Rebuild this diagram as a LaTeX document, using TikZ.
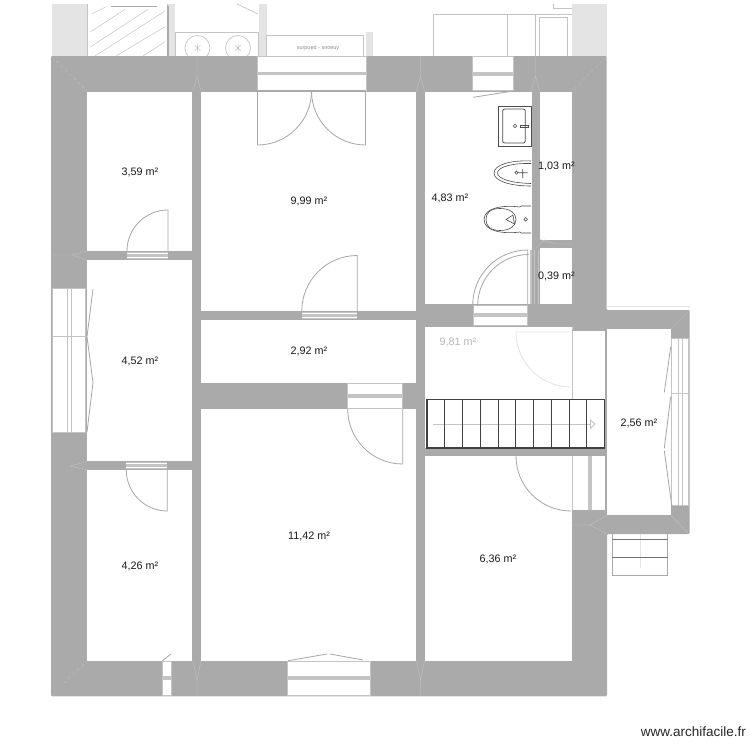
\documentclass[tikz,border=0pt]{standalone}
\usepackage{fontspec}
\setmainfont{Liberation Sans}
\usepackage{xcolor}
\definecolor{wallgray}{HTML}{AAAAAA}
\definecolor{framegray}{HTML}{C4C4C4}
\definecolor{palegray}{HTML}{E4E4E4}
\tikzstyle{wall} = [fill=wallgray, draw=none]
\tikzstyle{room} = [fill=white, draw=none]
\tikzstyle{opening} = [fill=white, draw=framegray, line width=0.9pt]
\tikzstyle{band} = [fill=framegray, draw=none]
\tikzstyle{doorline} = [draw=framegray!85!black, line width=0.8pt]
\tikzstyle{joint} = [draw=framegray, line width=0.3pt]
\tikzstyle{fixture} = [draw=black!70, line width=0.6pt]
\tikzstyle{outside} = [draw=framegray, line width=0.7pt]
\tikzstyle{area} = [font=\fontsize{10.8}{12}\selectfont, text=black!90, inner sep=0pt]
\tikzstyle{stairline} = [draw=black!75, line width=1.1pt]

\begin{document}
\begin{tikzpicture}[x=1pt, y=-1pt]
    \useasboundingbox (0,0) rectangle (750,750);

    % what lies outside, north of the house
    \fill[palegray] (52,4) rectangle (87,56);
    \fill[palegray] (168,4) rectangle (175,56);
    \fill[palegray] (259,4) rectangle (266.5,56);
    \fill[palegray] (366,32) rectangle (373,56);
    \fill[palegray] (572,4) rectangle (606.5,56);
    \draw[outside] (87.5,56) -- (87.5,4) (167,56) -- (167,4);
    \draw[draw=wallgray, line width=1.5pt] (168,56) -- (168,6);
    \draw[draw=wallgray, line width=1pt] (111,6) -- (157,6);
    \draw[outside] (237,4) .. controls (245,8) and (252,11) .. (258,14);
    \foreach \hx/\hy/\ha/\hb in {91.7/14/105/7.3, 90.7/31.7/125/9.3, 90.7/46.7/148/9.3, 95/56/165/11, 116/56/165/26.7, 143/56/165/41.7} {
        \draw[outside, line width=0.5pt] (\hx,\hy) -- (\ha,\hb);
    }
    \draw[outside] (175,56) -- (175,32) -- (258,32) -- (258,56);
    \foreach \cx in {197.5,238} {
        \draw[outside] (\cx,48) circle (12.5);
        \draw[outside, line width=0.5pt] (\cx-3,45) -- (\cx+3,51) (\cx+3,45) -- (\cx-3,51) (\cx,44) -- (\cx,52);
    }
    \draw[outside] (266.5,56) -- (266.5,35.5) -- (363.5,35.5) -- (363.5,56);
    \node[inner sep=0pt, text=black!45, font=\fontsize{5.5}{6}\selectfont] (mirrored) at (318,48.5) {surpoed - snoeuy};
    \draw[outside] (433.5,56) -- (433.5,14.5) -- (572,14.5) (507.5,14.5) -- (507.5,56) (535,14.5) -- (535,56);
    \draw[outside] (539.5,56) -- (539.5,17.5) -- (567.5,17.5) -- (567.5,56);
    \draw[outside] (553.5,4) -- (553.5,8) -- (572,8);

    % walls
    \draw[draw=palegray, line width=0.8pt] (606.5,306) -- (689.5,306);
    \fill[wall, rounded corners=1pt] (51,56) -- (606.5,56) -- (606.5,310) -- (689.5,310) -- (689.5,534)
        -- (607,534) -- (607,696) -- (51,696) -- cycle;
    \draw[draw=palegray, line width=0.8pt] (52,696.5) -- (606,696.5);

    % rooms
    \foreach \xa/\ya/\xb/\yb in {87/91.5/192.3/251, 87/260/192.3/461.3, 87/470.3/192.3/660.5,
        201/91.5/416/311, 201/320/416/383, 201/409/416/660.5,
        425/91.5/531.5/304, 540/91.5/571.5/239.5, 540/248/571.5/304,
        425/327/571.7/447.7, 571.7/330.5/605.3/447.7, 425/456/605.3/510, 425/510/571.7/660.5,
        607/329/670.7/515.3} {
        \fill[room] (\xa,\ya) rectangle (\xb,\yb);
    }

    % joints inside the walls
    \foreach \jx in {197,420.5,535.5} {
        \draw[joint] (\jx,56) -- (\jx,76) -- (\jx-4,91) (\jx,76) -- (\jx+4,91);
    }
    \foreach \jx in {197,420.5} {
        \draw[joint] (\jx,695) -- (\jx,680) -- (\jx-4,661) (\jx,680) -- (\jx+4,661);
    }
    \draw[joint, dashed] (52,57) -- (87,91);
    \draw[joint, dashed] (606,57) -- (572,91);
    \draw[joint, dashed] (64,683) -- (87,661);
    \draw[joint] (52,255) -- (72,255) -- (87,251) (72,255) -- (87,260);
    \draw[joint] (70,466) -- (87,461.5) (70,466) -- (87,470);
    \draw[joint] (689,311) -- (671,329) (689,534) -- (671,515.5);
    \draw[joint] (607,534) -- (590,525) -- (572,525) (590,525) -- (607,515.5);
    \draw[joint] (545,239.5) -- (536,248) (571.5,244) -- (556,244) (556,244) -- (540,239.5);

    % windows
    \foreach \xa/\xb/\ya/\yb/\ba/\bb in {257/366/56.5/91/71.7/75.3, 472.3/513.3/56.5/90.5/71.7/75.5,
        473/527.7/305/325.5/313.3/317.3, 347.3/402.7/383.5/408.5/394/397.5,
        162/171.3/661/695.5/676/680, 287.3/370/661/695.5/676/680} {
        \draw[opening] (\xa,\ya) rectangle (\xb,\yb);
        \fill[band] (\xa,\ba) rectangle (\xb,\bb);
    }
    \draw[draw=wallgray, line width=1.2pt] (257,91) -- (366,91);
    % low doorways
    \foreach \xa/\xb/\ya/\yb in {127/168/252/259, 126/167.3/462/469, 302/357.3/312/319} {
        \fill[band] (\xa,\ya) rectangle (\xb,\yb);
        \draw[draw=white, line width=0.7pt] (\xa,{(\ya+\yb)/2-1.7}) -- (\xb,{(\ya+\yb)/2-1.7})
            (\xa,{(\ya+\yb)/2+1.7}) -- (\xb,{(\ya+\yb)/2+1.7});
    }
    % west window
    \draw[opening] (52,288.7) rectangle (85.7,432);
    \draw[draw=framegray, line width=0.8pt] (67,288.7) -- (67,432) (71.2,288.7) -- (71.2,432) (52,336.7) -- (85.7,336.7);
    \draw[doorline] (93,289) -- (87,336.7) -- (93,382.5) -- (87,432);
    % bay window
    \fill[white] (671.7,338) rectangle (689,505);
    \draw[draw=framegray, line width=0.8pt] (671.7,338) -- (671.7,505) (678.5,338) -- (678.5,505) (682.7,338) -- (682.7,505)
        (688.5,338) -- (688.5,505) (671.7,338) -- (689,338) (671.7,505) -- (689,505) (671.7,393.7) -- (689,393.7);
    \draw[doorline] (670.7,346.7) -- (664.3,392.3) (670.7,396.7) -- (664.3,448.3) (664.3,450.7) -- (671.7,505);
    % casements
    \draw[doorline] (473.3,97.3) -- (513.3,91) (162,661) -- (171,654)
        (288,660.7) -- (327,654) (330,654) -- (363,660);

    % doors
    \draw[doorline] (168,251) -- (168,210) arc[start angle=270, end angle=180, radius=41];
    \draw[doorline] (167.3,470) -- (167.3,511) arc[start angle=90, end angle=180, radius=41];
    \draw[doorline] (357.3,311) -- (357.3,255.5) arc[start angle=270, end angle=180, radius=55.5];
    \draw[doorline] (402.7,409) -- (402.7,464) arc[start angle=90, end angle=180, radius=55];
    \draw[doorline] (257.5,91) -- (257.5,145) arc[start angle=90, end angle=0, radius=54];
    \draw[doorline] (365.5,91) -- (365.5,145) arc[start angle=90, end angle=180, radius=54];
    \draw[doorline] (527.7,304) -- (527.7,250) arc[start angle=270, end angle=180, radius=55];
    \draw[doorline] (528.7,254.5) arc[start angle=270, end angle=180, radius=51];
    \draw[draw=framegray, line width=1.6pt] (531,250) -- (531,304);
    \draw[draw=framegray, line width=0.8pt] (534,250) -- (534,304) (538.7,250) -- (538.7,304);
    \draw[draw=palegray, line width=0.8pt] (571,332) -- (516,332) arc[start angle=180, end angle=90, radius=55];
    \draw[doorline] (516,456) arc[start angle=180, end angle=90, radius=55];

    % doorway beside the stairs
    \draw[draw=framegray, line width=0.9pt] (572.3,327) -- (572.3,399) (572.3,456) -- (572.3,510);
    \draw[draw=wallgray, line width=1pt] (572,330.5) -- (606,330.5);
    \fill[framegray] (587.5,456) rectangle (591.5,510);
    \draw[draw=wallgray, line width=2pt] (606.2,329) -- (606.2,515);

    % sanitary fixtures
    \draw[fixture] (498.3,106) rectangle (531.3,146.7);
    \draw[fixture, rounded corners=2pt, line width=0.8pt] (502.7,109) rectangle (525.3,143);
    \draw[fixture] (515,126) circle (1.8);
    \draw[fixture] (520,124.8) rectangle (528,127.2);
    \draw[fixture] (531,161) .. controls (510,160) and (494,165) .. (494,173) .. controls (494,181) and (510,186) .. (531,186);
    \draw[fixture] (531,163.5) .. controls (512,163) and (497.5,167) .. (497.5,173) .. controls (497.5,179) and (512,183) .. (531,183.5);
    \draw[fixture] (516.5,172.7) circle (1.6) (518.5,172.7) -- (527.5,172.7) (522.7,169) -- (522.7,178);
    \draw[fixture] (520,207) .. controls (505,205) and (484,207) .. (484,219.5) .. controls (484,232) and (505,234) .. (520,232)
        -- (521,233) -- (531,233) (531,206) -- (521,206) -- (520,207);
    \draw[fixture] (500,208.5) .. controls (490,208.5) and (486,213) .. (486,219.5) .. controls (486,226) and (490,230.5) .. (500,230.5)
        .. controls (510,230.5) and (516,226) .. (516,219.5) .. controls (516,213) and (510,208.5) .. (500,208.5) -- cycle;
    \draw[fixture] (506,219.5) -- (513,215) -- (514.5,224) -- cycle;
    \draw[fixture] (525.7,219.3) circle (1.8);

    % stairs
    \draw[draw=framegray, line width=0.9pt] (433,424) -- (590,424);
    \draw[draw=framegray, line width=0.9pt] (590.5,420) -- (595,424) -- (590.5,428.5) -- cycle;
    \draw[stairline] (427,399.7) rectangle (604.7,448);
    \foreach \k in {1,...,9} {
        \draw[stairline] ({427+17.77*\k},399.7) -- ({427+17.77*\k},448);
    }
    % steps below the bay
    \draw[draw=palegray, line width=0.8pt] (640,534) -- (640,568);
    \draw[outside, draw=wallgray] (612,534) -- (612,575.3) -- (667.7,575.3) -- (667.7,534);
    \draw[outside, draw=black!55] (612,539) -- (667.7,539) (612,557.3) -- (667.7,557.3);

    % room areas
    \node[area] (a359) at (140,172) {3,59 m²};
    \node[area] (a999) at (309,201) {9,99 m²};
    \node[area] (a483) at (450,198) {4,83 m²};
    \node[area] (a103) at (556.5,166) {1,03 m²};
    \node[area] (a039) at (556.5,276) {0,39 m²};
    \node[area, text=black!28] (a981) at (458,342) {9,81 m²};
    \node[area] (a452) at (140,361) {4,52 m²};
    \node[area] (a292) at (309,351) {2,92 m²};
    \node[area] (a256) at (639,423) {2,56 m²};
    \node[area] (a1142) at (309,536) {11,42 m²};
    \node[area] (a426) at (140,566) {4,26 m²};
    \node[area] (a636) at (498,559) {6,36 m²};
    \node[inner sep=0pt, anchor=east, font=\fontsize{13.5}{15}\selectfont, text=black!85] (brand) at (746,732) {www.archifacile.fr};
\end{tikzpicture}
\end{document}
